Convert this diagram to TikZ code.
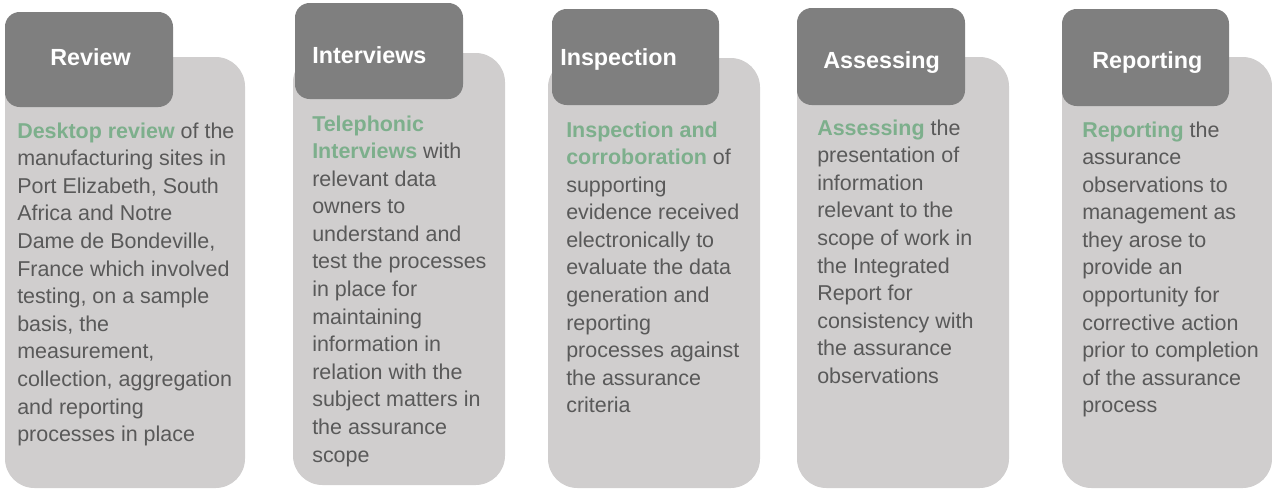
\documentclass[tikz,border=0pt]{standalone}
\usepackage{fontspec}
\setmainfont{Liberation Sans}
\definecolor{bodygray}{HTML}{D0CECE}
\definecolor{headgray}{HTML}{7F7F7F}
\definecolor{textgray}{HTML}{595959}
\definecolor{hlgreen}{HTML}{7DAF8C}
\newcommand{\hlt}[1]{\textbf{\textcolor{hlgreen}{#1}}}
\newcommand{\lines}[1]{\begin{tabular}[t]{@{}l@{}}#1\end{tabular}}
\tikzset{
  x=0.75pt, y=-0.75pt,
  cardbody/.style={fill=bodygray, rounded corners=22pt},
  cardhead/.style={fill=headgray, rounded corners=11pt},
  headtext/.style={anchor=base west, inner sep=0pt, text=white,
    font=\fontsize{17.5pt}{20pt}\selectfont\bfseries},
  bodytext/.style={anchor=base west, inner sep=0pt, text=textgray,
    font=\fontsize{16.1pt}{20.7pt}\selectfont}
}
\begin{document}
\begin{tikzpicture}
\useasboundingbox (0,0) rectangle (1272,489);
% card 1
\fill[cardbody] (5,57) rectangle (245,488);
\fill[cardhead] (5,12) rectangle (173,107);
\node[headtext] (h1) at (50,65) {Review};
\node[bodytext] (t1) at (17,138) {\lines{\hlt{Desktop review} of the\\
manufacturing sites in\\ Port Elizabeth, South\\ Africa and Notre\\
Dame de Bondeville,\\ France which involved\\ testing, on a sample\\
basis, the\\ measurement,\\ collection, aggregation\\ and reporting\\
processes in place}};
% card 2
\fill[cardbody] (293,53) rectangle (505,485);
\fill[cardhead] (295,3) rectangle (463,99);
\node[headtext] (h2) at (312,63) {Interviews};
\node[bodytext] (t2) at (312,131) {\lines{\hlt{Telephonic}\\
\hlt{Interviews} with\\ relevant data\\ owners to\\ understand and\\
test the processes\\ in place for\\ maintaining\\ information in\\
relation with the\\ subject matters in\\ the assurance\\ scope}};
% card 3
\fill[cardbody] (548,58) rectangle (760,488);
\fill[cardhead] (552,9) rectangle (719,105);
\node[headtext] (h3) at (560,65) {Inspection};
\node[bodytext] (t3) at (566,137) {\lines{\hlt{Inspection and}\\
\hlt{corroboration} of\\ supporting\\ evidence received\\
electronically to\\ evaluate the data\\ generation and\\ reporting\\
processes against\\ the assurance\\ criteria}};
% card 4
\fill[cardbody] (797,57) rectangle (1009,488);
\fill[cardhead] (797,8) rectangle (965,105);
\node[headtext] (h4) at (823,68) {Assessing};
\node[bodytext] (t4) at (817,135) {\lines{\hlt{Assessing} the\\
presentation of\\ information\\ relevant to the\\ scope of work in\\
the Integrated\\ Report for\\ consistency with\\ the assurance\\
observations}};
% card 5
\fill[cardbody] (1062,57) rectangle (1272,488);
\fill[cardhead] (1062,9) rectangle (1229,106);
\node[headtext] (h5) at (1092,68) {Reporting};
\node[bodytext] (t5) at (1082,137) {\lines{\hlt{Reporting} the\\
assurance\\ observations to\\ management as\\ they arose to\\
provide an\\ opportunity for\\ corrective action\\ prior to completion\\
of the assurance\\ process}};
\end{tikzpicture}
\end{document}
